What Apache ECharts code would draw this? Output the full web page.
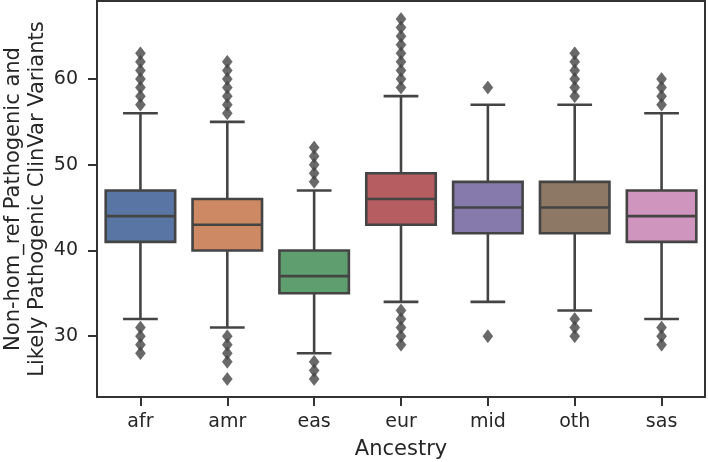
<!DOCTYPE html>
<html>
<head>
<meta charset="utf-8">
<script src="https://cdn.jsdelivr.net/npm/echarts@6/dist/echarts.min.js"></script>
<style>html,body{margin:0;padding:0;background:#fff}#c{width:708px;height:462px}</style>
</head>
<body>
<div id="c"></div>
<script>
const categories = ['afr', 'amr', 'eas', 'eur', 'mid', 'oth', 'sas'];
const whiskerLow = [32, 31, 28, 34, 34, 33, 32];
const q1 = [41, 40, 35, 43, 42, 42, 41];
const median = [44, 43, 37, 46, 45, 45, 44];
const q3 = [47, 46, 40, 49, 48, 48, 47];
const whiskerHigh = [56, 55, 47, 58, 57, 57, 56];
const outliersAfr = [57, 58, 59, 60, 61, 62, 63, 31, 30, 29, 28];
const outliersAmr = [56, 57, 58, 59, 60, 61, 62, 30, 29, 28, 27, 25];
const outliersEas = [48, 49, 50, 51, 52, 27, 26, 25];
const outliersEur = [59, 60, 61, 62, 63, 64, 65, 66, 67, 33, 32, 31, 30, 29];
const outliersMid = [59, 30];
const outliersOth = [58, 59, 60, 61, 62, 63, 32, 31, 30];
const outliersSas = [57, 58, 59, 60, 31, 30, 29];
const yTicks = [30, 40, 50, 60];
const boxColors = ['#5875a4', '#cc8963', '#5f9e6e', '#b55d60', '#857aab', '#8d7866', '#d095bf'];

const outlierLists = [outliersAfr, outliersAmr, outliersEas, outliersEur, outliersMid, outliersOth, outliersSas];
const boxData = categories.map((c, i) => [i, whiskerLow[i], q1[i], median[i], q3[i], whiskerHigh[i]]);
const outlierData = [];
outlierLists.forEach((list, i) => list.forEach(v => outlierData.push([categories[i], v])));

const lineColor = '#444444';
const font = 'DejaVu Sans';

const chart = echarts.init(document.getElementById('c'), null, {renderer: 'canvas'});
chart.setOption({
  animation: false,
  backgroundColor: '#ffffff',
  grid: {left: 97, right: 3, top: 1, bottom: 65, containLabel: false, outerBoundsMode: 'none', show: true, borderColor: '#333333', borderWidth: 2, backgroundColor: 'transparent'},
  xAxis: {
    type: 'category',
    data: categories,
    boundaryGap: true,
    name: 'Ancestry',
    nameLocation: 'middle',
    nameGap: 42,
    nameMoveOverlap: false,
    nameTextStyle: {fontFamily: font, fontSize: 21, color: '#262626'},
    axisLine: {show: true, lineStyle: {color: '#333333', width: 2}},
    axisTick: {show: true, alignWithLabel: true, length: 9, lineStyle: {color: '#333333', width: 2}},
    axisLabel: {fontFamily: font, fontSize: 19, color: '#262626', margin: 16},
    splitLine: {show: false}
  },
  yAxis: {
    type: 'value',
    min: 22.9,
    max: 69.1,
    name: 'Non-hom_ref Pathogenic and\nLikely Pathogenic ClinVar Variants',
    nameLocation: 'middle',
    nameRotate: 90,
    nameGap: 47,
    nameMoveOverlap: false,
    nameTextStyle: {fontFamily: font, fontSize: 21, color: '#262626', lineHeight: 24, align: 'center'},
    axisLine: {show: true, lineStyle: {color: '#333333', width: 2}},
    axisTick: {show: true, length: 9, customValues: yTicks, lineStyle: {color: '#333333', width: 2}},
    axisLabel: {fontFamily: font, fontSize: 19, color: '#262626', margin: 19, customValues: yTicks},
    splitLine: {show: false}
  },
  series: [
    {
      type: 'custom',
      data: boxData,
      encode: {x: 0, y: [1, 2, 3, 4, 5]},
      renderItem: function (params, api) {
        const i = api.value(0);
        const lo = api.value(1), a = api.value(2), m = api.value(3), b = api.value(4), hi = api.value(5);
        const band = api.size([1, 0])[0];
        const bw = band * 0.8;
        const cx = api.coord([i, m])[0];
        const yLo = api.coord([i, lo])[1];
        const yA = api.coord([i, a])[1];
        const yM = api.coord([i, m])[1];
        const yB = api.coord([i, b])[1];
        const yHi = api.coord([i, hi])[1];
        const capHalf = bw / 4;
        const ls = {stroke: lineColor, lineWidth: 2.6};
        return {
          type: 'group',
          children: [
            {type: 'line', shape: {x1: cx, y1: yA, x2: cx, y2: yLo}, style: ls},
            {type: 'line', shape: {x1: cx, y1: yB, x2: cx, y2: yHi}, style: ls},
            {type: 'line', shape: {x1: cx - capHalf, y1: yLo, x2: cx + capHalf, y2: yLo}, style: ls},
            {type: 'line', shape: {x1: cx - capHalf, y1: yHi, x2: cx + capHalf, y2: yHi}, style: ls},
            {type: 'rect', shape: {x: cx - bw / 2, y: yB, width: bw, height: yA - yB}, style: {fill: boxColors[i], stroke: lineColor, lineWidth: 2.6}},
            {type: 'line', shape: {x1: cx - bw / 2, y1: yM, x2: cx + bw / 2, y2: yM}, style: ls}
          ]
        };
      },
      z: 2
    },
    {
      type: 'scatter',
      data: outlierData,
      symbol: 'diamond',
      symbolSize: [10, 13],
      itemStyle: {color: lineColor, borderColor: lineColor, borderWidth: 0.5},
      z: 3
    }
  ]
});
</script>
</body>
</html>
